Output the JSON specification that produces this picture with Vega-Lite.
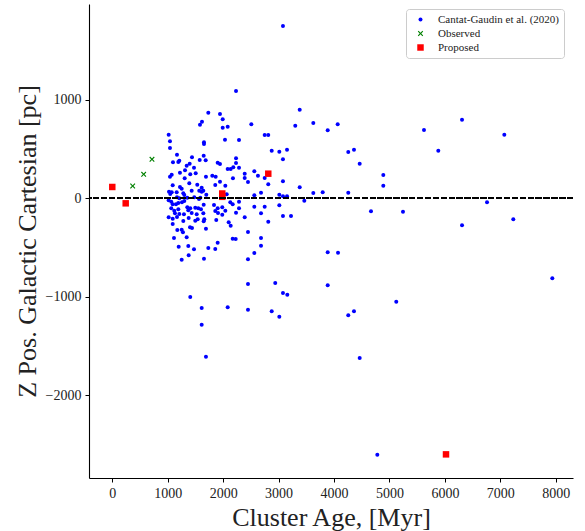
{
  "$schema": "https://vega.github.io/schema/vega-lite/v6.json",
  "width": 484,
  "height": 474,
  "autosize": "none",
  "padding": {"left": 89, "top": 4, "right": 12, "bottom": 53},
  "background": "white",
  "config": {
    "view": {"stroke": null},
    "font": "Liberation Serif",
    "axis": {
      "domainColor": "black", "domainWidth": 1.1,
      "tickColor": "black", "tickWidth": 1, "tickSize": 4,
      "grid": false,
      "labelFont": "Liberation Serif", "labelFontSize": 14, "labelColor": "#222",
      "labelPadding": 4,
      "titleFont": "Liberation Serif", "titleFontWeight": "normal", "titleColor": "#222"
    },
    "legend": {
      "labelFont": "Liberation Serif", "labelFontSize": 11, "labelColor": "#222"
    }
  },
  "data": {"values": [
    {"age":3079,"z":1749,"src":"Cantat-Gaudin et al. (2020)"},
    {"age":2232,"z":1089,"src":"Cantat-Gaudin et al. (2020)"},
    {"age":1732,"z":869,"src":"Cantat-Gaudin et al. (2020)"},
    {"age":1943,"z":856,"src":"Cantat-Gaudin et al. (2020)"},
    {"age":1992,"z":802,"src":"Cantat-Gaudin et al. (2020)"},
    {"age":1618,"z":778,"src":"Cantat-Gaudin et al. (2020)"},
    {"age":1582,"z":747,"src":"Cantat-Gaudin et al. (2020)"},
    {"age":2082,"z":727,"src":"Cantat-Gaudin et al. (2020)"},
    {"age":1992,"z":717,"src":"Cantat-Gaudin et al. (2020)"},
    {"age":3381,"z":899,"src":"Cantat-Gaudin et al. (2020)"},
    {"age":2508,"z":751,"src":"Cantat-Gaudin et al. (2020)"},
    {"age":3301,"z":737,"src":"Cantat-Gaudin et al. (2020)"},
    {"age":3626,"z":764,"src":"Cantat-Gaudin et al. (2020)"},
    {"age":3886,"z":690,"src":"Cantat-Gaudin et al. (2020)"},
    {"age":4066,"z":751,"src":"Cantat-Gaudin et al. (2020)"},
    {"age":1017,"z":646,"src":"Cantat-Gaudin et al. (2020)"},
    {"age":2749,"z":643,"src":"Cantat-Gaudin et al. (2020)"},
    {"age":2814,"z":643,"src":"Cantat-Gaudin et al. (2020)"},
    {"age":1041,"z":579,"src":"Cantat-Gaudin et al. (2020)"},
    {"age":2033,"z":595,"src":"Cantat-Gaudin et al. (2020)"},
    {"age":2286,"z":592,"src":"Cantat-Gaudin et al. (2020)"},
    {"age":1654,"z":569,"src":"Cantat-Gaudin et al. (2020)"},
    {"age":1654,"z":551,"src":"Cantat-Gaudin et al. (2020)"},
    {"age":1041,"z":511,"src":"Cantat-Gaudin et al. (2020)"},
    {"age":2876,"z":483,"src":"Cantat-Gaudin et al. (2020)"},
    {"age":3013,"z":473,"src":"Cantat-Gaudin et al. (2020)"},
    {"age":3152,"z":493,"src":"Cantat-Gaudin et al. (2020)"},
    {"age":1167,"z":443,"src":"Cantat-Gaudin et al. (2020)"},
    {"age":1649,"z":432,"src":"Cantat-Gaudin et al. (2020)"},
    {"age":1438,"z":416,"src":"Cantat-Gaudin et al. (2020)"},
    {"age":2232,"z":406,"src":"Cantat-Gaudin et al. (2020)"},
    {"age":3079,"z":396,"src":"Cantat-Gaudin et al. (2020)"},
    {"age":1095,"z":365,"src":"Cantat-Gaudin et al. (2020)"},
    {"age":1209,"z":382,"src":"Cantat-Gaudin et al. (2020)"},
    {"age":1191,"z":369,"src":"Cantat-Gaudin et al. (2020)"},
    {"age":1577,"z":389,"src":"Cantat-Gaudin et al. (2020)"},
    {"age":1685,"z":386,"src":"Cantat-Gaudin et al. (2020)"},
    {"age":1901,"z":361,"src":"Cantat-Gaudin et al. (2020)"},
    {"age":1943,"z":348,"src":"Cantat-Gaudin et al. (2020)"},
    {"age":2232,"z":358,"src":"Cantat-Gaudin et al. (2020)"},
    {"age":1396,"z":351,"src":"Cantat-Gaudin et al. (2020)"},
    {"age":1342,"z":331,"src":"Cantat-Gaudin et al. (2020)"},
    {"age":1474,"z":311,"src":"Cantat-Gaudin et al. (2020)"},
    {"age":2183,"z":315,"src":"Cantat-Gaudin et al. (2020)"},
    {"age":2286,"z":311,"src":"Cantat-Gaudin et al. (2020)"},
    {"age":2082,"z":297,"src":"Cantat-Gaudin et al. (2020)"},
    {"age":2136,"z":297,"src":"Cantat-Gaudin et al. (2020)"},
    {"age":2562,"z":274,"src":"Cantat-Gaudin et al. (2020)"},
    {"age":1312,"z":284,"src":"Cantat-Gaudin et al. (2020)"},
    {"age":1221,"z":260,"src":"Cantat-Gaudin et al. (2020)"},
    {"age":1407,"z":244,"src":"Cantat-Gaudin et al. (2020)"},
    {"age":1505,"z":254,"src":"Cantat-Gaudin et al. (2020)"},
    {"age":1690,"z":219,"src":"Cantat-Gaudin et al. (2020)"},
    {"age":1804,"z":229,"src":"Cantat-Gaudin et al. (2020)"},
    {"age":1865,"z":219,"src":"Cantat-Gaudin et al. (2020)"},
    {"age":2389,"z":250,"src":"Cantat-Gaudin et al. (2020)"},
    {"age":2628,"z":229,"src":"Cantat-Gaudin et al. (2020)"},
    {"age":2749,"z":206,"src":"Cantat-Gaudin et al. (2020)"},
    {"age":3079,"z":173,"src":"Cantat-Gaudin et al. (2020)"},
    {"age":2177,"z":203,"src":"Cantat-Gaudin et al. (2020)"},
    {"age":2389,"z":206,"src":"Cantat-Gaudin et al. (2020)"},
    {"age":1072,"z":240,"src":"Cantat-Gaudin et al. (2020)"},
    {"age":1041,"z":219,"src":"Cantat-Gaudin et al. (2020)"},
    {"age":1306,"z":203,"src":"Cantat-Gaudin et al. (2020)"},
    {"age":1389,"z":152,"src":"Cantat-Gaudin et al. (2020)"},
    {"age":1533,"z":138,"src":"Cantat-Gaudin et al. (2020)"},
    {"age":1943,"z":169,"src":"Cantat-Gaudin et al. (2020)"},
    {"age":2448,"z":165,"src":"Cantat-Gaudin et al. (2020)"},
    {"age":2814,"z":142,"src":"Cantat-Gaudin et al. (2020)"},
    {"age":1858,"z":135,"src":"Cantat-Gaudin et al. (2020)"},
    {"age":1090,"z":132,"src":"Cantat-Gaudin et al. (2020)"},
    {"age":2039,"z":128,"src":"Cantat-Gaudin et al. (2020)"},
    {"age":1613,"z":108,"src":"Cantat-Gaudin et al. (2020)"},
    {"age":1221,"z":115,"src":"Cantat-Gaudin et al. (2020)"},
    {"age":1252,"z":97,"src":"Cantat-Gaudin et al. (2020)"},
    {"age":3381,"z":112,"src":"Cantat-Gaudin et al. (2020)"},
    {"age":1023,"z":67,"src":"Cantat-Gaudin et al. (2020)"},
    {"age":1072,"z":61,"src":"Cantat-Gaudin et al. (2020)"},
    {"age":1046,"z":44,"src":"Cantat-Gaudin et al. (2020)"},
    {"age":1162,"z":61,"src":"Cantat-Gaudin et al. (2020)"},
    {"age":1299,"z":34,"src":"Cantat-Gaudin et al. (2020)"},
    {"age":1281,"z":51,"src":"Cantat-Gaudin et al. (2020)"},
    {"age":1569,"z":77,"src":"Cantat-Gaudin et al. (2020)"},
    {"age":1613,"z":67,"src":"Cantat-Gaudin et al. (2020)"},
    {"age":1642,"z":77,"src":"Cantat-Gaudin et al. (2020)"},
    {"age":1432,"z":77,"src":"Cantat-Gaudin et al. (2020)"},
    {"age":1696,"z":37,"src":"Cantat-Gaudin et al. (2020)"},
    {"age":2064,"z":41,"src":"Cantat-Gaudin et al. (2020)"},
    {"age":2562,"z":30,"src":"Cantat-Gaudin et al. (2020)"},
    {"age":2683,"z":57,"src":"Cantat-Gaudin et al. (2020)"},
    {"age":3013,"z":37,"src":"Cantat-Gaudin et al. (2020)"},
    {"age":3079,"z":20,"src":"Cantat-Gaudin et al. (2020)"},
    {"age":3152,"z":20,"src":"Cantat-Gaudin et al. (2020)"},
    {"age":3626,"z":54,"src":"Cantat-Gaudin et al. (2020)"},
    {"age":3796,"z":61,"src":"Cantat-Gaudin et al. (2020)"},
    {"age":1017,"z":-20,"src":"Cantat-Gaudin et al. (2020)"},
    {"age":1064,"z":-35,"src":"Cantat-Gaudin et al. (2020)"},
    {"age":1167,"z":10,"src":"Cantat-Gaudin et al. (2020)"},
    {"age":1209,"z":0,"src":"Cantat-Gaudin et al. (2020)"},
    {"age":1353,"z":6,"src":"Cantat-Gaudin et al. (2020)"},
    {"age":1479,"z":10,"src":"Cantat-Gaudin et al. (2020)"},
    {"age":1564,"z":-7,"src":"Cantat-Gaudin et al. (2020)"},
    {"age":1588,"z":6,"src":"Cantat-Gaudin et al. (2020)"},
    {"age":1299,"z":-27,"src":"Cantat-Gaudin et al. (2020)"},
    {"age":1257,"z":-41,"src":"Cantat-Gaudin et al. (2020)"},
    {"age":3464,"z":-24,"src":"Cantat-Gaudin et al. (2020)"},
    {"age":2129,"z":-41,"src":"Cantat-Gaudin et al. (2020)"},
    {"age":2172,"z":-61,"src":"Cantat-Gaudin et al. (2020)"},
    {"age":2286,"z":-35,"src":"Cantat-Gaudin et al. (2020)"},
    {"age":1090,"z":-61,"src":"Cantat-Gaudin et al. (2020)"},
    {"age":1149,"z":-61,"src":"Cantat-Gaudin et al. (2020)"},
    {"age":1191,"z":-48,"src":"Cantat-Gaudin et al. (2020)"},
    {"age":1649,"z":-65,"src":"Cantat-Gaudin et al. (2020)"},
    {"age":1835,"z":-68,"src":"Cantat-Gaudin et al. (2020)"},
    {"age":2562,"z":-85,"src":"Cantat-Gaudin et al. (2020)"},
    {"age":2749,"z":-85,"src":"Cantat-Gaudin et al. (2020)"},
    {"age":3013,"z":-71,"src":"Cantat-Gaudin et al. (2020)"},
    {"age":1064,"z":-102,"src":"Cantat-Gaudin et al. (2020)"},
    {"age":1118,"z":-126,"src":"Cantat-Gaudin et al. (2020)"},
    {"age":1191,"z":-112,"src":"Cantat-Gaudin et al. (2020)"},
    {"age":1353,"z":-91,"src":"Cantat-Gaudin et al. (2020)"},
    {"age":1371,"z":-122,"src":"Cantat-Gaudin et al. (2020)"},
    {"age":1407,"z":-102,"src":"Cantat-Gaudin et al. (2020)"},
    {"age":1497,"z":-95,"src":"Cantat-Gaudin et al. (2020)"},
    {"age":1551,"z":-102,"src":"Cantat-Gaudin et al. (2020)"},
    {"age":1600,"z":-112,"src":"Cantat-Gaudin et al. (2020)"},
    {"age":1901,"z":-102,"src":"Cantat-Gaudin et al. (2020)"},
    {"age":1984,"z":-91,"src":"Cantat-Gaudin et al. (2020)"},
    {"age":2039,"z":-126,"src":"Cantat-Gaudin et al. (2020)"},
    {"age":2286,"z":-102,"src":"Cantat-Gaudin et al. (2020)"},
    {"age":2232,"z":-146,"src":"Cantat-Gaudin et al. (2020)"},
    {"age":1858,"z":-129,"src":"Cantat-Gaudin et al. (2020)"},
    {"age":1907,"z":-149,"src":"Cantat-Gaudin et al. (2020)"},
    {"age":1131,"z":-152,"src":"Cantat-Gaudin et al. (2020)"},
    {"age":1209,"z":-159,"src":"Cantat-Gaudin et al. (2020)"},
    {"age":1293,"z":-162,"src":"Cantat-Gaudin et al. (2020)"},
    {"age":1432,"z":-149,"src":"Cantat-Gaudin et al. (2020)"},
    {"age":1523,"z":-162,"src":"Cantat-Gaudin et al. (2020)"},
    {"age":1642,"z":-152,"src":"Cantat-Gaudin et al. (2020)"},
    {"age":1984,"z":-166,"src":"Cantat-Gaudin et al. (2020)"},
    {"age":2683,"z":-152,"src":"Cantat-Gaudin et al. (2020)"},
    {"age":3079,"z":-180,"src":"Cantat-Gaudin et al. (2020)"},
    {"age":3224,"z":-180,"src":"Cantat-Gaudin et al. (2020)"},
    {"age":1017,"z":-193,"src":"Cantat-Gaudin et al. (2020)"},
    {"age":1090,"z":-207,"src":"Cantat-Gaudin et al. (2020)"},
    {"age":1167,"z":-190,"src":"Cantat-Gaudin et al. (2020)"},
    {"age":1378,"z":-200,"src":"Cantat-Gaudin et al. (2020)"},
    {"age":1541,"z":-213,"src":"Cantat-Gaudin et al. (2020)"},
    {"age":1660,"z":-213,"src":"Cantat-Gaudin et al. (2020)"},
    {"age":2389,"z":-193,"src":"Cantat-Gaudin et al. (2020)"},
    {"age":2100,"z":-244,"src":"Cantat-Gaudin et al. (2020)"},
    {"age":2136,"z":-278,"src":"Cantat-Gaudin et al. (2020)"},
    {"age":1876,"z":-220,"src":"Cantat-Gaudin et al. (2020)"},
    {"age":2814,"z":-238,"src":"Cantat-Gaudin et al. (2020)"},
    {"age":1649,"z":-233,"src":"Cantat-Gaudin et al. (2020)"},
    {"age":1497,"z":-227,"src":"Cantat-Gaudin et al. (2020)"},
    {"age":1090,"z":-261,"src":"Cantat-Gaudin et al. (2020)"},
    {"age":1281,"z":-230,"src":"Cantat-Gaudin et al. (2020)"},
    {"age":1690,"z":-309,"src":"Cantat-Gaudin et al. (2020)"},
    {"age":1173,"z":-322,"src":"Cantat-Gaudin et al. (2020)"},
    {"age":1252,"z":-319,"src":"Cantat-Gaudin et al. (2020)"},
    {"age":1275,"z":-345,"src":"Cantat-Gaudin et al. (2020)"},
    {"age":1402,"z":-294,"src":"Cantat-Gaudin et al. (2020)"},
    {"age":1438,"z":-302,"src":"Cantat-Gaudin et al. (2020)"},
    {"age":2448,"z":-342,"src":"Cantat-Gaudin et al. (2020)"},
    {"age":1113,"z":-403,"src":"Cantat-Gaudin et al. (2020)"},
    {"age":1342,"z":-396,"src":"Cantat-Gaudin et al. (2020)"},
    {"age":2172,"z":-410,"src":"Cantat-Gaudin et al. (2020)"},
    {"age":2226,"z":-413,"src":"Cantat-Gaudin et al. (2020)"},
    {"age":2683,"z":-403,"src":"Cantat-Gaudin et al. (2020)"},
    {"age":1901,"z":-451,"src":"Cantat-Gaudin et al. (2020)"},
    {"age":2683,"z":-481,"src":"Cantat-Gaudin et al. (2020)"},
    {"age":1198,"z":-491,"src":"Cantat-Gaudin et al. (2020)"},
    {"age":1371,"z":-484,"src":"Cantat-Gaudin et al. (2020)"},
    {"age":1732,"z":-505,"src":"Cantat-Gaudin et al. (2020)"},
    {"age":1858,"z":-515,"src":"Cantat-Gaudin et al. (2020)"},
    {"age":1474,"z":-518,"src":"Cantat-Gaudin et al. (2020)"},
    {"age":1378,"z":-579,"src":"Cantat-Gaudin et al. (2020)"},
    {"age":1252,"z":-623,"src":"Cantat-Gaudin et al. (2020)"},
    {"age":1654,"z":-613,"src":"Cantat-Gaudin et al. (2020)"},
    {"age":2448,"z":-619,"src":"Cantat-Gaudin et al. (2020)"},
    {"age":2562,"z":-555,"src":"Cantat-Gaudin et al. (2020)"},
    {"age":3886,"z":-548,"src":"Cantat-Gaudin et al. (2020)"},
    {"age":2448,"z":-870,"src":"Cantat-Gaudin et al. (2020)"},
    {"age":2940,"z":-860,"src":"Cantat-Gaudin et al. (2020)"},
    {"age":3079,"z":-961,"src":"Cantat-Gaudin et al. (2020)"},
    {"age":3157,"z":-979,"src":"Cantat-Gaudin et al. (2020)"},
    {"age":3886,"z":-883,"src":"Cantat-Gaudin et al. (2020)"},
    {"age":1407,"z":-1002,"src":"Cantat-Gaudin et al. (2020)"},
    {"age":1613,"z":-1114,"src":"Cantat-Gaudin et al. (2020)"},
    {"age":2082,"z":-1107,"src":"Cantat-Gaudin et al. (2020)"},
    {"age":2448,"z":-1131,"src":"Cantat-Gaudin et al. (2020)"},
    {"age":2876,"z":-1147,"src":"Cantat-Gaudin et al. (2020)"},
    {"age":3013,"z":-1202,"src":"Cantat-Gaudin et al. (2020)"},
    {"age":1613,"z":-1283,"src":"Cantat-Gaudin et al. (2020)"},
    {"age":1690,"z":-1608,"src":"Cantat-Gaudin et al. (2020)"},
    {"age":4072,"z":-552,"src":"Cantat-Gaudin et al. (2020)"},
    {"age":7938,"z":-812,"src":"Cantat-Gaudin et al. (2020)"},
    {"age":5123,"z":-1050,"src":"Cantat-Gaudin et al. (2020)"},
    {"age":4257,"z":-1188,"src":"Cantat-Gaudin et al. (2020)"},
    {"age":4360,"z":-1147,"src":"Cantat-Gaudin et al. (2020)"},
    {"age":4463,"z":-1621,"src":"Cantat-Gaudin et al. (2020)"},
    {"age":4781,"z":-2603,"src":"Cantat-Gaudin et al. (2020)"},
    {"age":4257,"z":470,"src":"Cantat-Gaudin et al. (2020)"},
    {"age":4360,"z":493,"src":"Cantat-Gaudin et al. (2020)"},
    {"age":4463,"z":351,"src":"Cantat-Gaudin et al. (2020)"},
    {"age":4889,"z":237,"src":"Cantat-Gaudin et al. (2020)"},
    {"age":4889,"z":128,"src":"Cantat-Gaudin et al. (2020)"},
    {"age":4257,"z":57,"src":"Cantat-Gaudin et al. (2020)"},
    {"age":4667,"z":-132,"src":"Cantat-Gaudin et al. (2020)"},
    {"age":5244,"z":-136,"src":"Cantat-Gaudin et al. (2020)"},
    {"age":5623,"z":693,"src":"Cantat-Gaudin et al. (2020)"},
    {"age":5881,"z":483,"src":"Cantat-Gaudin et al. (2020)"},
    {"age":6309,"z":798,"src":"Cantat-Gaudin et al. (2020)"},
    {"age":7072,"z":646,"src":"Cantat-Gaudin et al. (2020)"},
    {"age":6760,"z":-41,"src":"Cantat-Gaudin et al. (2020)"},
    {"age":7234,"z":-213,"src":"Cantat-Gaudin et al. (2020)"},
    {"age":6309,"z":-274,"src":"Cantat-Gaudin et al. (2020)"},
    {"age":716,"z":396,"src":"Observed"},
    {"age":566,"z":244,"src":"Observed"},
    {"age":368,"z":125,"src":"Observed"},
    {"age":0,"z":115,"src":"Proposed"},
    {"age":242,"z":-51,"src":"Proposed"},
    {"age":1984,"z":49,"src":"Proposed"},
    {"age":1984,"z":15,"src":"Proposed"},
    {"age":2814,"z":250,"src":"Proposed"},
    {"age":6020,"z":-2600,"src":"Proposed"}
  ]},
  "layer": [
    {
      "mark": {"type": "point", "filled": true, "opacity": 1, "strokeWidth": 0},
      "encoding": {
        "x": {
          "field": "age", "type": "quantitative",
          "scale": {"domain": [-420, 8311], "nice": false, "zero": false},
          "axis": {"values": [0,1000,2000,3000,4000,5000,6000,7000,8000], "format": "d",
                   "title": "Cluster Age, [Myr]", "titleFontSize": 26, "titlePadding": 4}
        },
        "y": {
          "field": "z", "type": "quantitative",
          "scale": {"domain": [-2840, 1973], "nice": false, "zero": false},
          "axis": {"values": [-2000,-1000,0,1000], "format": "d",
                   "title": "Z Pos. Galactic Cartesian [pc]", "titleFontSize": 26, "titlePadding": 5}
        },
        "color": {
          "field": "src", "type": "nominal",
          "scale": {"domain": ["Cantat-Gaudin et al. (2020)", "Observed", "Proposed"],
                    "range": ["#0000ff", "#008000", "#ff0000"]},
          "legend": {
            "title": null, "orient": "none", "legendX": 317, "legendY": 5,
            "fillColor": "white", "strokeColor": "#cccccc", "cornerRadius": 3,
            "padding": 5, "rowPadding": 2, "symbolOffset": 4, "labelOffset": 12
          }
        },
        "shape": {
          "field": "src", "type": "nominal",
          "scale": {"domain": ["Cantat-Gaudin et al. (2020)", "Observed", "Proposed"],
                    "range": ["circle", "M0,-0.3L0.7,-1L1,-0.7L0.3,0L1,0.7L0.7,1L0,0.3L-0.7,1L-1,0.7L-0.3,0L-1,-0.7L-0.7,-1Z", "square"]},
          "legend": null
        },
        "size": {
          "field": "src", "type": "nominal",
          "scale": {"domain": ["Cantat-Gaudin et al. (2020)", "Observed", "Proposed"],
                    "range": [16, 42, 44]},
          "legend": null
        }
      }
    },
    {
      "mark": {"type": "rule", "color": "black", "strokeWidth": 1.5, "strokeDash": [5.5, 2.4]},
      "encoding": {"y": {"datum": 0}}
    }
  ]
}
